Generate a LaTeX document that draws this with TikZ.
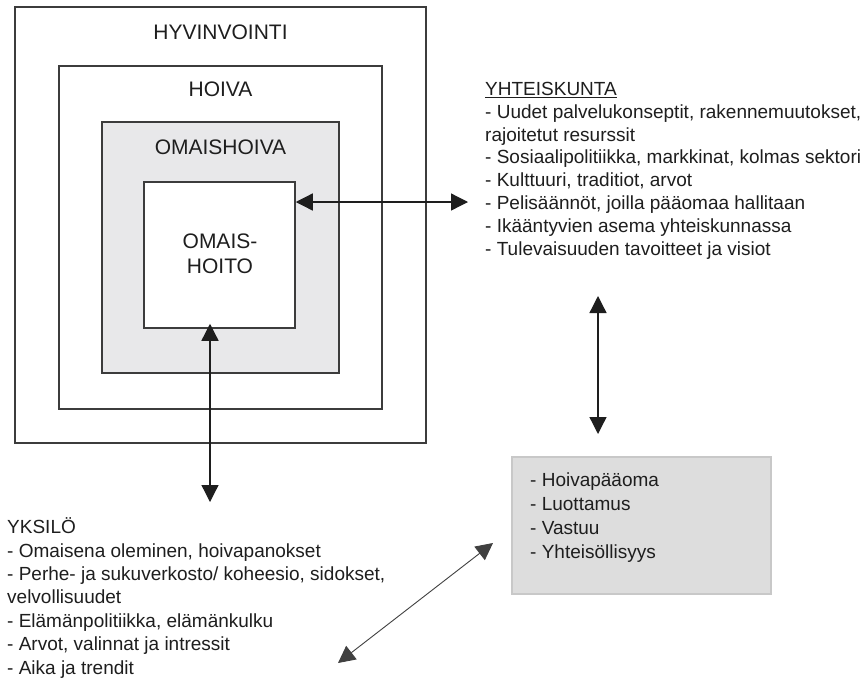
\documentclass[tikz,border=0pt]{standalone}
\usepackage{fontspec}
\setmainfont{Liberation Sans}
\usetikzlibrary{arrows.meta}
\definecolor{frame}{RGB}{60,60,60}
\definecolor{ink}{RGB}{30,30,30}
\definecolor{shade}{RGB}{232,232,234}
\definecolor{dotfill}{RGB}{221,221,221}
\definecolor{dotedge}{RGB}{200,200,200}
\begin{document}
\begin{tikzpicture}[x=1pt,y=-1pt,
  frame/.style={draw=frame, line width=1.5pt, inner sep=0pt},
  title/.style={font=\fontsize{21}{25}\selectfont, text=ink, align=center, inner sep=0pt},
  % multi-line blocks are placed by the baseline of their last line
  body/.style={font=\fontsize{19}{23}\selectfont, text=ink, align=left, inner sep=0pt, anchor=base west},
  tip/.tip={Triangle[length=17pt,width=17pt]},
  link/.style={draw=ink, line width=1.3pt, tip-tip},
  thinlink/.style={draw=ink!85, line width=0.9pt, tip-tip},
]
\useasboundingbox (0,0) rectangle (867,678);
\fill[white] (0,0) rectangle (867,678);

% nested levels
\node[frame, minimum width=411pt, minimum height=436pt] (outer) at (220.5,225) {};
\node[frame, minimum width=323pt, minimum height=343pt] (hoiva) at (220.5,237.5) {};
\node[frame, fill=shade, minimum width=237pt, minimum height=251pt] (grey) at (220.5,247.5) {};
\node[frame, fill=white, minimum width=151pt, minimum height=146pt] (inner) at (219.5,255) {};

\node[title] (tHyv) at (220.5,32) {HYVINVOINTI};
\node[title] (tHoi) at (220.5,89) {HOIVA};
\node[title] (tOmh) at (220.5,147) {OMAISHOIVA};
\node[title] (tOmk) at (220,253.5) {OMAIS-\\HOITO};

% society
\node[body, font=\fontsize{19}{22.8}\selectfont] (soc) at (485,255) {\underline{YHTEISKUNTA}\\
- Uudet palvelukonseptit, rakennemuutokset,\\
rajoitetut resurssit\\
- Sosiaalipolitiikka, markkinat, kolmas sektori\\
- Kulttuuri, traditiot, arvot\\
- Pelisäännöt, joilla pääomaa hallitaan\\
- Ikääntyvien asema yhteiskunnassa\\
- Tulevaisuuden tavoitteet ja visiot};

% individual
\node[body, font=\fontsize{19}{23.4}\selectfont] (ind) at (7,674) {YKSILÖ\\
- Omaisena oleminen, hoivapanokset\\
- Perhe- ja sukuverkosto/ koheesio, sidokset,\\
velvollisuudet\\
- Elämänpolitiikka, elämänkulku\\
- Arvot, valinnat ja intressit\\
- Aika ja trendit};

% care capital
\node[draw=dotedge, fill=dotfill, line width=1.2pt, minimum width=259pt, minimum height=137pt] (cap) at (641.5,525.5) {};
\node[body, font=\fontsize{19}{23.7}\selectfont] (capText) at (530,558) {- Hoivapääoma\\
- Luottamus\\
- Vastuu\\
- Yhteisöllisyys};

% connector end points
\coordinate (hR) at (468,202);
\coordinate (vB) at (210,502);
\coordinate (rT) at (598,296);
\coordinate (rB) at (598,434);
\coordinate (dA) at (493,543);
\coordinate (dB) at (338,663);

\draw[link] (inner.east |- hR) -- (hR);
\draw[link, shorten <=-5pt] (inner.south -| vB) -- (vB);
\draw[link] (rT) -- (rB);
\draw[thinlink] (dA) -- (dB);
\end{tikzpicture}
\end{document}
